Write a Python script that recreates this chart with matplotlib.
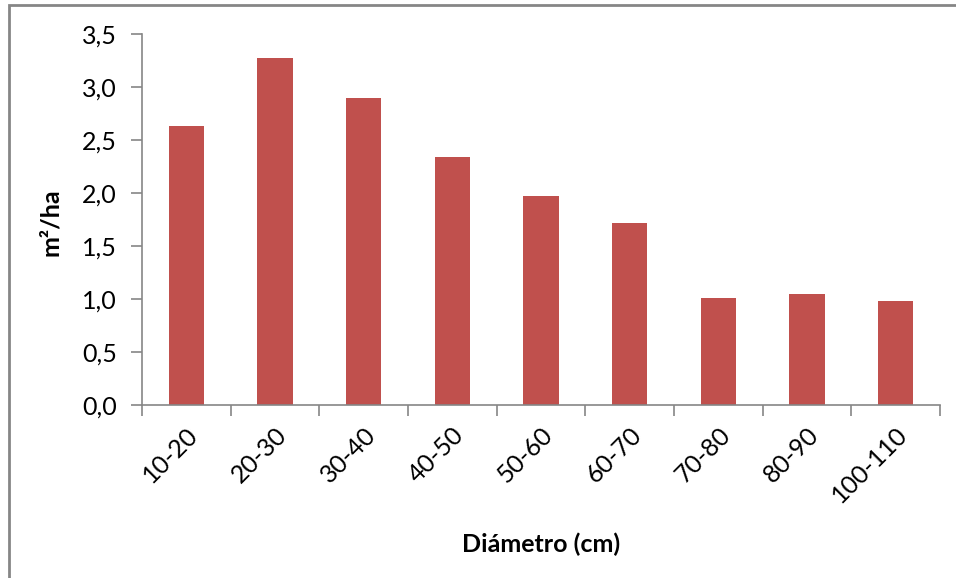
import numpy as np
import matplotlib
matplotlib.use('Agg')
import matplotlib.pyplot as plt
from matplotlib.patches import Rectangle
from matplotlib.ticker import FuncFormatter

plt.rcParams['font.family'] = ['Lato', 'DejaVu Sans']

# area basal por clase diamétrica
clases = ['10-20', '20-30', '30-40', '40-50', '50-60', '60-70', '70-80', '80-90', '100-110']
area = [2.63, 3.27, 2.90, 2.34, 1.97, 1.72, 1.01, 1.05, 0.98]

bar_color = '#C0504D'
gray = '#868686'

fig = plt.figure(figsize=(9.56, 5.78), dpi=100)
ax = fig.add_axes([142 / 956, 1 - 405 / 578, (940 - 142) / 956, (405 - 34) / 578])

x = np.arange(len(clases))
ax.bar(x, area, width=0.4, color=bar_color, zorder=2)

ax.set_xlim(-0.5, len(clases) - 0.5)
ax.set_ylim(0, 3.5)
ax.set_yticks(np.arange(0, 3.51, 0.5))
ax.yaxis.set_major_formatter(FuncFormatter(lambda v, p: f'{v:.1f}'.replace('.', ',')))

# marcas entre categorías, etiquetas en el centro
ax.set_xticks(np.arange(-0.5, len(clases), 1.0))
ax.set_xticklabels([])
ax.set_xticks(x, minor=True)
ax.set_xticklabels(clases, minor=True, rotation=45, ha='right', va='top',
                   rotation_mode='anchor', fontsize=18)
ax.tick_params(axis='x', which='minor', length=0, pad=13)
ax.tick_params(axis='x', which='major', length=8, width=1.2, color=gray, direction='out')
ax.tick_params(axis='y', length=8, width=1.2, color=gray, direction='out', labelsize=18, pad=10)

for side in ['top', 'right']:
    ax.spines[side].set_visible(False)
for side in ['left', 'bottom']:
    ax.spines[side].set_color(gray)
    ax.spines[side].set_linewidth(1.2)

ax.set_xlabel('Diámetro (cm)', fontsize=18, fontweight='bold', labelpad=0)
ax.xaxis.set_label_coords((541 - 142) / (940 - 142), -(533 - 405) / (405 - 34))
ax.set_ylabel('m²/ha', fontsize=18, fontweight='bold')
ax.yaxis.set_label_coords(-(142 - 62) / (940 - 142), (405 - 222) / (405 - 34))

# marco del gráfico
fig.patches.append(Rectangle((8.5 / 956, -0.1), 1.2, 1 - 5.5 / 578 + 0.1,
                             transform=fig.transFigure, fill=False,
                             edgecolor=gray, linewidth=2))

fig.savefig('out.png', dpi=100)
